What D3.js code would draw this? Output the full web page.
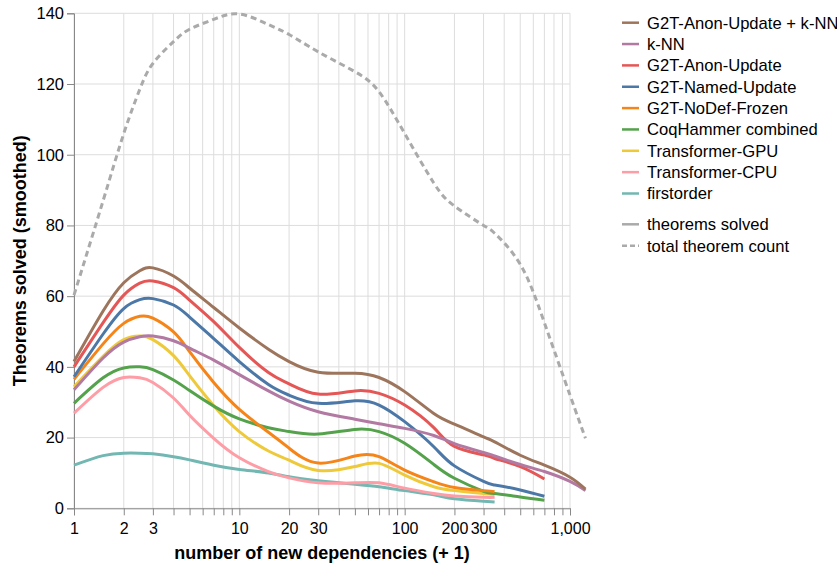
<!DOCTYPE html>
<html>
<head>
<meta charset="utf-8">
<script src="https://cdn.jsdelivr.net/npm/d3@7"></script>
<style>
  body { margin: 0; background: #fff; }
  svg { font-family: "Liberation Sans", Arial, Helvetica, sans-serif; }
</style>
</head>
<body>
<svg id="chart" width="837" height="563"></svg>
<script>
// x positions (number of new dependencies + 1) at which the smoothed curves were read
const xs = [1, 1.5, 2, 2.5, 3, 4, 5, 7, 10, 15, 20, 30, 50, 70, 100, 150, 200, 300, 350, 500, 700, 1000, 1240];

const seriesNames = [
  "G2T-Anon-Update + k-NN",
  "k-NN",
  "G2T-Anon-Update",
  "G2T-Named-Update",
  "G2T-NoDef-Frozen",
  "CoqHammer combined",
  "Transformer-GPU",
  "Transformer-CPU",
  "firstorder",
];
const seriesColors = ["#9d755d", "#b279a2", "#e45756", "#4c78a8", "#f58518", "#54a24b", "#eeca3b", "#ff9da6", "#72b7b2"];

const anonKnn = [41.5, 55.8, 63.8, 67.2, 68, 65.7, 62.3, 56.8, 51, 45, 41.5, 38.5, 38.2, 37, 33, 26.8, 23.8, 20.2, 18.8, 15, 12.2, 8.8, 5.4];
const knn = [33.5, 42.5, 47, 48.5, 48.7, 47.4, 45.3, 41.9, 37.8, 33.2, 30.3, 27.3, 25.2, 23.9, 22.6, 20.6, 18.3, 15.8, 14.8, 12.4, 10.4, 7.6, 5.0];
const anonUpdate = [40, 52.5, 60.3, 63.7, 64.3, 62.4, 58.9, 52.8, 45.5, 38.4, 35.2, 32.3, 33.2, 32.5, 29.2, 22.8, 17.5, 15.1, 14.1, 11.8, 8.3, null, null];
const namedUpdate = [37.2, 49.3, 56.5, 59, 59.3, 57.5, 54.1, 48, 41.5, 35, 32, 29.7, 30.4, 29.2, 24.5, 17.4, 12, 7.6, 6.6, 5.2, 3.4, null, null];
const noDefFrozen = [36.5, 46.5, 52.3, 54.3, 53.8, 49.9, 44.3, 35.6, 28, 21.5, 17, 12.8, 14.8, 14.6, 10.8, 7.5, 5.9, 5, 4.7, null, null, null, null];
const coqHammer = [29.7, 36.9, 39.7, 40, 39.2, 36.3, 33.3, 28.9, 25.3, 22.8, 21.7, 21, 22.3, 21.7, 18.4, 12.4, 8.5, 4.8, 4.2, 3.2, 2.3, null, null];
const transformerGpu = [34.4, 43, 47.7, 48.7, 47.7, 43.2, 37.5, 29, 21.7, 16.2, 13.6, 10.7, 11.8, 12.7, 9.4, 6.1, 5.0, 4.2, 3.9, null, null, null, null];
const transformerCpu = [26.9, 34.2, 37, 36.9, 35.6, 31.2, 26.3, 19.8, 14.3, 10.4, 8.6, 7.2, 7.2, 7.2, 5.7, 4.2, 3.5, 3.1, 3.1, null, null, null, null];
const firstorder = [12.2, 14.9, 15.6, 15.6, 15.4, 14.6, 13.7, 12.2, 11, 10, 8.9, 7.8, 6.8, 6.1, 5, 3.8, 2.7, 2.0, 1.8, null, null, null, null];

const totalCount = [60.3, 87, 106, 118.5, 125.8, 132, 135.5, 138.3, 139.8, 136.8, 134, 129.1, 123.5, 117.8, 106, 92, 85.5, 80, 77.8, 69, 52.5, 32, 19.8];

const seriesValues = [anonKnn, knn, anonUpdate, namedUpdate, noDefFrozen, coqHammer, transformerGpu, transformerCpu, firstorder];

const xTickValues = [1, 2, 3, 4, 5, 6, 7, 8, 9, 10, 20, 30, 40, 50, 60, 70, 80, 90, 100, 200, 300, 400, 500, 600, 700, 800, 900, 1000];
const xLabelled = [1, 2, 3, 10, 20, 30, 100, 200, 300, 1000];
const yTickValues = [0, 20, 40, 60, 80, 100, 120, 140];

const svg = d3.select("#chart");
const margin = { top: 13.3, right: 267, bottom: 54.7, left: 74 };
const width = 837;
const height = 563;

const x = d3.scaleLog().domain([1, 1000]).range([margin.left, width - margin.right]);
const y = d3.scaleLinear().domain([0, 140]).range([height - margin.bottom, margin.top]);

// grid
svg
  .append("g")
  .selectAll("line")
  .data(xTickValues)
  .join("line")
  .attr("x1", (d) => x(d))
  .attr("x2", (d) => x(d))
  .attr("y1", y(0))
  .attr("y2", y(140))
  .attr("stroke", "#ddd");

svg
  .append("g")
  .selectAll("line")
  .data(yTickValues)
  .join("line")
  .attr("x1", x(1))
  .attr("x2", x(1000))
  .attr("y1", (d) => y(d))
  .attr("y2", (d) => y(d))
  .attr("stroke", "#ddd");

const xAxis = (g) =>
  g
    .attr("transform", `translate(0,${y(0)})`)
    .call(
      d3
        .axisBottom(x)
        .tickValues(xTickValues)
        .tickSize(7)
        .tickPadding(7)
        .tickFormat((d) => (xLabelled.includes(d) ? d3.format(",")(d) : ""))
    )
    .call((g) => g.selectAll("line, path").attr("stroke", "#888"))
    .call((g) => g.selectAll(".tick text").attr("font-size", 16).attr("fill", "#000").attr("font-family", null));

const yAxis = (g) =>
  g
    .attr("transform", `translate(${x(1)},0)`)
    .call(d3.axisLeft(y).tickValues(yTickValues).tickSize(7).tickPadding(3))
    .call((g) => g.selectAll("line, path").attr("stroke", "#888"))
    .call((g) => g.selectAll(".tick text").attr("font-size", 16.5).attr("fill", "#000").attr("font-family", null));

svg.append("g").call(xAxis);
svg.append("g").call(yAxis);

svg
  .append("text")
  .attr("x", (x(1) + x(1000)) / 2)
  .attr("y", 559)
  .attr("text-anchor", "middle")
  .attr("font-weight", "bold")
  .attr("font-size", 18)
  .text("number of new dependencies (+ 1)");

svg
  .append("text")
  .attr("transform", `translate(26,${(y(0) + y(140)) / 2}) rotate(-90)`)
  .attr("text-anchor", "middle")
  .attr("font-weight", "bold")
  .attr("font-size", 18)
  .text("Theorems solved (smoothed)");

const line = d3
  .line()
  .defined((d) => d.v != null)
  .x((d) => x(d.x))
  .y((d) => y(d.v))
  .curve(d3.curveNatural);

svg
  .append("path")
  .datum(xs.map((d, i) => ({ x: d, v: totalCount[i] })))
  .attr("fill", "none")
  .attr("stroke", "#aaa")
  .attr("stroke-width", 3)
  .attr("stroke-dasharray", "6,4")
  .attr("d", line);

// draw bottom series first so the legend's top entries sit on top
seriesValues
  .map((vals, i) => ({ i, vals }))
  .reverse()
  .forEach(({ i, vals }) => {
    svg
      .append("path")
      .datum(xs.map((d, j) => ({ x: d, v: vals[j] })))
      .attr("fill", "none")
      .attr("stroke", seriesColors[i])
      .attr("stroke-width", 3)
      .attr("d", line);
  });

// legend
const legend = svg.append("g").attr("font-size", 16.6);
const legendItems = seriesNames.map((name, i) => ({ name, color: seriesColors[i], dash: null, y: 22.7 + i * 21.35 }));
legendItems.push({ name: "theorems solved", color: "#aaa", dash: null, y: 224.3 });
legendItems.push({ name: "total theorem count", color: "#aaa", dash: "5,3", y: 245.7 });

const rows = legend
  .selectAll("g")
  .data(legendItems)
  .join("g")
  .attr("transform", (d) => `translate(622,${d.y})`);

rows
  .append("line")
  .attr("x1", 0)
  .attr("x2", 17)
  .attr("stroke", (d) => d.color)
  .attr("stroke-width", 2.5)
  .attr("stroke-dasharray", (d) => d.dash);

rows
  .append("text")
  .attr("x", 25)
  .attr("dy", "0.35em")
  .text((d) => d.name);
</script>
</body>
</html>
